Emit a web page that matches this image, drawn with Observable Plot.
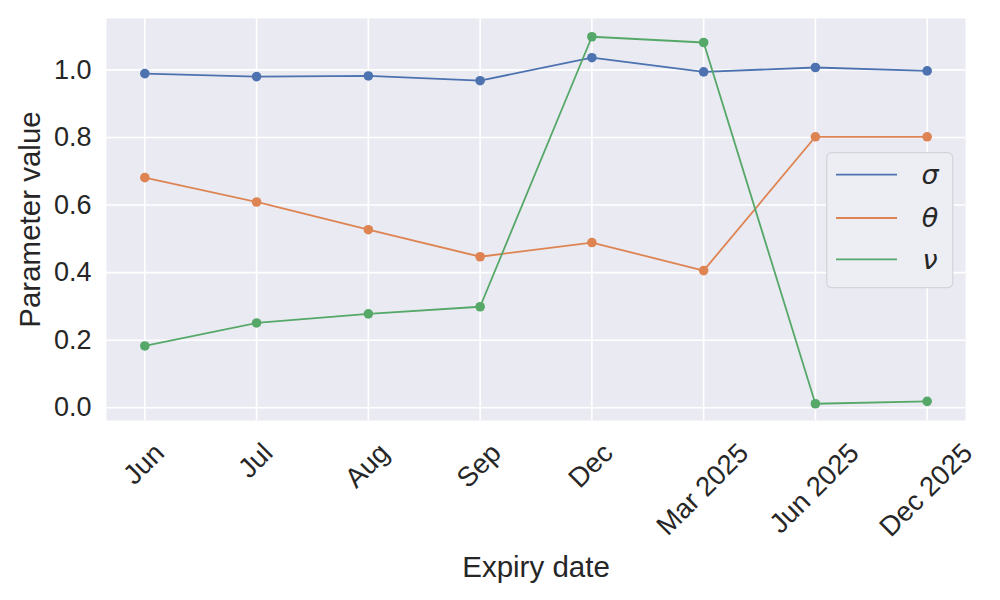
<!DOCTYPE html>
<html><head><meta charset="utf-8">
<script src="https://cdn.jsdelivr.net/npm/d3@7"></script>
<script src="https://cdn.jsdelivr.net/npm/@observablehq/plot@0.6"></script>
<style>
html,body{margin:0;padding:0;background:#fff;}
#chart{width:1000px;height:600px;}
</style></head><body><div id="chart"></div>
<script>
const expiries = ["Jun","Jul","Aug","Sep","Dec","Mar 2025","Jun 2025","Dec 2025"];
const sigma = [0.989,0.980,0.982,0.968,1.036,0.994,1.007,0.997];
const theta = [0.681,0.609,0.527,0.447,0.489,0.406,0.802,0.802];
const nu = [0.183,0.251,0.278,0.299,1.098,1.081,0.012,0.019];
const seriesNames = ["σ","θ","ν"];
const seriesColors = ["#4C72B0","#DD8452","#55A868"];
const yTicks = [0,0.2,0.4,0.6,0.8,1.0];

const rows = [];
[sigma,theta,nu].forEach((vals,si)=>vals.forEach((v,i)=>rows.push({expiry:expiries[i], value:v, series:seriesNames[si]})));

const textColor = "#262626";
const font = "'Liberation Sans', Arial, sans-serif";

const plot = Plot.plot({
  width:1000, height:600,
  marginLeft:106, marginRight:35, marginTop:18, marginBottom:180,
  style:{fontFamily:font, background:"#fff", color:textColor, overflow:"visible"},
  x:{type:"point", domain:expiries, padding:0.343, round:false, axis:null},
  y:{domain:[-0.0376,1.152], axis:null},
  color:{domain:seriesNames, range:seriesColors},
  marks:[
    Plot.frame({fill:"#EAEAF2", stroke:null}),
    Plot.gridX(expiries, {x:d=>d, stroke:"#fff", strokeOpacity:1, strokeWidth:1.6}),
    Plot.gridY(yTicks, {y:d=>d, stroke:"#fff", strokeOpacity:1, strokeWidth:1.6}),
    Plot.line(rows, {x:"expiry", y:"value", z:"series", stroke:"series", strokeWidth:1.8}),
    Plot.dot(rows, {x:"expiry", y:"value", fill:"series", r:4.8}),
    Plot.axisY(yTicks, {tickSize:0, tickPadding:15, fontSize:27, tickFormat:d3.format(".1f"), label:null, fill:textColor}),
    Plot.text(expiries, {x:d=>d, frameAnchor:"bottom", rotate:-45, textAnchor:"middle", lineAnchor:"middle", fontSize:27.5, fill:textColor}),
    Plot.text(["Parameter value"], {frameAnchor:"left", dx:-76, rotate:-90, textAnchor:"middle", lineAnchor:"middle", fontSize:29.5, fill:textColor}),
    Plot.text(["Expiry date"], {frameAnchor:"bottom", dy:146.6, textAnchor:"middle", lineAnchor:"middle", fontSize:29.5, fill:textColor})
  ]
});
document.getElementById("chart").append(plot);
const svg = d3.select(plot);
const tickTexts = svg.selectAll("text").filter(function(){ return expiries.includes(this.textContent) && (this.getAttribute("transform")||"").includes("rotate"); });
tickTexts.each(function(){
  const w = this.getComputedTextLength();
  const h = 31;
  const off = 17 + (w + h) * Math.SQRT1_2 / 2;
  const t = this.getAttribute("transform") || "";
  this.setAttribute("transform", `translate(-1,${off}) ${t}`);
});
// legend
const lg = svg.append("g").attr("aria-label","legend");
lg.append("rect").attr("x",826.7).attr("y",152.7).attr("width",126).attr("height",135).attr("rx",5)
  .attr("fill","#EDEDF4").attr("stroke","#D3D3DB").attr("stroke-width",1.2);
const ly = [174.7,218,259.3];
seriesNames.forEach((n,i)=>{
  lg.append("line").attr("x1",836).attr("x2",897).attr("y1",ly[i]).attr("y2",ly[i])
    .attr("stroke",seriesColors[i]).attr("stroke-width",1.8);
  lg.append("text").attr("x",930).attr("y",ly[i]).attr("text-anchor","middle").attr("dy","0.35em")
    .attr("font-family","'DejaVu Sans', sans-serif").attr("font-style","italic").attr("font-size",27)
    .attr("fill",textColor).text(n);
});
</script></body></html>
